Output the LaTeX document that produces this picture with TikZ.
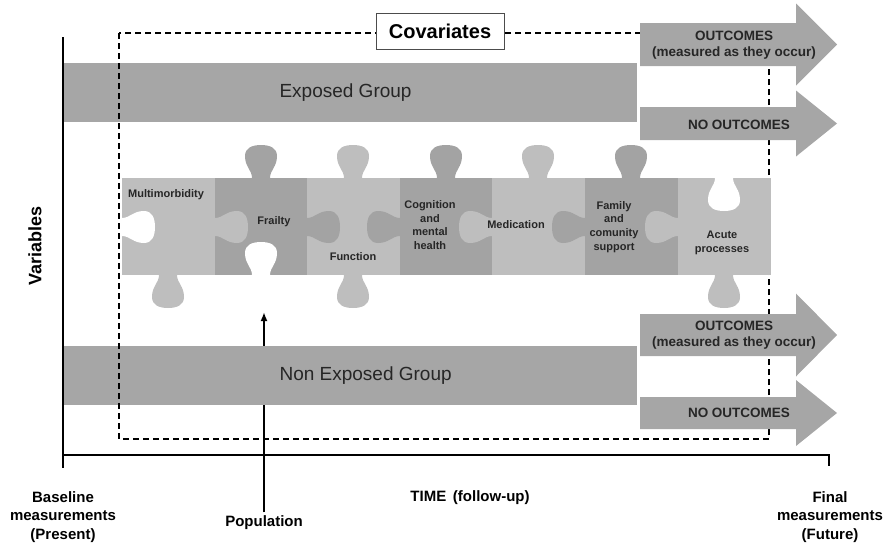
\documentclass[tikz,border=0pt]{standalone}
\usepackage{fontspec}
\setmainfont{Liberation Sans}
\usetikzlibrary{arrows.meta}
\definecolor{bargray}{HTML}{A6A6A6}
\definecolor{lightpiece}{HTML}{BEBEBE}
\definecolor{darkpiece}{HTML}{A3A3A3}

% puzzle tab: base centre x, y, rotation (0 = up), colour
\newcommand{\knob}[4]{%
  \fill[#4, shift={(#1,#2)}, rotate=#3] (-9,1.5) -- (-9,0)
    .. controls (-9,-8) and (-16,-11) .. (-16,-22)
    .. controls (-16,-30) and (-9,-33) .. (0,-33)
    .. controls (9,-33) and (16,-30) .. (16,-22)
    .. controls (16,-11) and (9,-8) .. (9,0) -- (9,1.5) -- cycle;}

% block arrow: start x, mid y, half shaft, half head
\newcommand{\outarrow}[4]{%
  \fill[bargray] (#1,#2-#3) -- (796,#2-#3) -- (796,#2-#4) -- (837,#2)
    -- (796,#2+#4) -- (796,#2+#3) -- (#1,#2+#3) -- cycle;}

\begin{document}
\begin{tikzpicture}[x=1pt, y=-1pt,
    piecelabel/.style={font=\fontsize{11}{13.7}\selectfont\bfseries, align=center, text=black!85},
    axislabel/.style={font=\fontsize{15}{18.5}\selectfont\bfseries, align=center},
    grouplabel/.style={font=\fontsize{19}{22}\selectfont, anchor=west, text=black!85},
    outlabel/.style={font=\fontsize{13.5}{16}\selectfont\bfseries, align=center, text=black!85}]
	\useasboundingbox (0,0) rectangle (889,546);

	% population arrow (behind the bars)
	\node[axislabel] (pop) at (264,523) {Population};
	\coordinate (poptip) at (264,312);
	\draw[line width=1.8pt, -{Latex[length=9pt,width=7pt]}] (pop.north) -- (poptip);

	% groups
	\fill[bargray] (63,63) rectangle (637,122);
	\fill[bargray] (63,346) rectangle (637,405);
	\node[grouplabel] (exp) at (276,93) {Exposed Group};
	\node[grouplabel] (nonexp) at (276,376) {Non Exposed Group};

	% covariates frame
	\draw[line width=1.2pt, dash pattern=on 6pt off 4pt] (119,33) rectangle (769,439);

	% puzzle pieces
	\fill[lightpiece] (122,178) rectangle (215,275);
	\fill[darkpiece]  (215,178) rectangle (307,275);
	\fill[lightpiece] (307,178) rectangle (400,275);
	\fill[darkpiece]  (400,178) rectangle (492,275);
	\fill[lightpiece] (492,178) rectangle (585,275);
	\fill[darkpiece]  (585,178) rectangle (678,275);
	\fill[lightpiece] (678,178) rectangle (771,275);

	\knob{261}{178}{0}{darkpiece}
	\knob{353}{178}{0}{lightpiece}
	\knob{446}{178}{0}{darkpiece}
	\knob{538}{178}{0}{lightpiece}
	\knob{631}{178}{0}{darkpiece}
	\knob{168}{275}{180}{lightpiece}
	\knob{353}{275}{180}{lightpiece}
	\knob{724}{275}{180}{lightpiece}
	\knob{215}{227}{-90}{lightpiece}
	\knob{307}{227}{-90}{darkpiece}
	\knob{400}{227}{90}{darkpiece}
	\knob{492}{227}{90}{lightpiece}
	\knob{585}{227}{90}{darkpiece}
	\knob{678}{227}{90}{lightpiece}
	\knob{122}{227}{-90}{white}
	\knob{261}{275}{0}{white}
	\knob{724}{178}{180}{white}

	\node[piecelabel] (p1) at (166,195) {Multimorbidity};
	\node[piecelabel] (p2) at (274,222) {Frailty};
	\node[piecelabel] (p3) at (353,257) {Function};
	\node[piecelabel] (p4) at (430,225) {Cognition\\and\\mental\\health};
	\node[piecelabel] (p5) at (516,225) {Medication};
	\node[piecelabel] (p6) at (614,227) {Family\\and\\comunity\\support};
	\node[piecelabel] (p7) at (722,243) {Acute\\processes};

	% outcomes
	\outarrow{640}{44.5}{21.5}{41}
	\outarrow{640}{123.5}{16.5}{33}
	\outarrow{640}{335}{21}{41.5}
	\outarrow{640}{413}{16}{33}
	\node[outlabel] (out1) at (734,45) {OUTCOMES\\(measured as they occur)};
	\node[outlabel] (no1) at (739,125) {NO OUTCOMES};
	\node[outlabel] (out2) at (734,335) {OUTCOMES\\(measured as they occur)};
	\node[outlabel] (no2) at (739,413) {NO OUTCOMES};

	\node[draw=black!70, line width=0.8pt, fill=white, minimum width=128pt, minimum height=36pt,
	      font=\fontsize{20}{24}\selectfont\bfseries] (cov) at (440,31) {Covariates};

	% axes
	\draw[line width=1.8pt] (63,37) -- (63,468);
	\draw[line width=1.8pt] (63,455) -- (829,455) -- (829,466);
	\node[axislabel, font=\fontsize{18}{20}\selectfont\bfseries, rotate=90] (vars) at (35,246) {Variables};
	\node[axislabel] (base) at (63,517) {Baseline\\measurements\\(Present)};
	\node[axislabel] (time) at (470,498) {TIME\, (follow-up)};
	\node[axislabel] (final) at (830,517) {Final\\measurements\\(Future)};
\end{tikzpicture}
\end{document}
